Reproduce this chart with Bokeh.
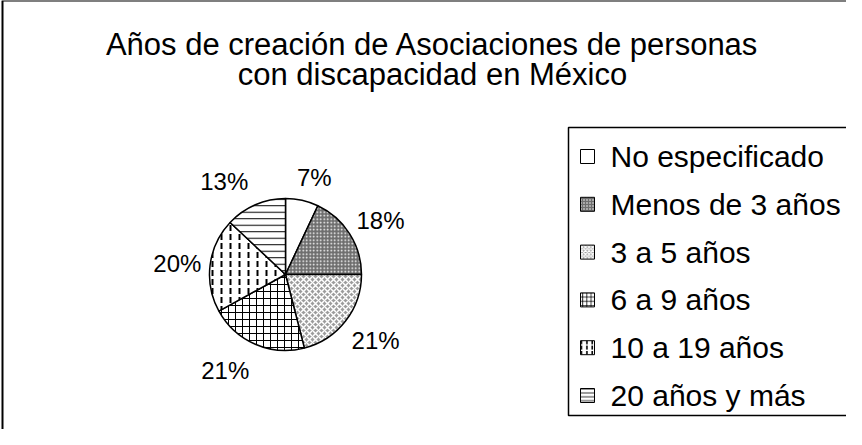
import math
from bokeh.plotting import figure
from bokeh.models import Range1d
from bokeh.core.properties import value
from bokeh.embed import file_html
from bokeh.resources import INLINE

# ---- data ----
title_lines = ["Años de creación de Asociaciones de personas",
               "con discapacidad en México"]
categories = ["No especificado", "Menos de 3 años", "3 a 5 años",
              "6 a 9 años", "10 a 19 años", "20 años y más"]
percentages = [7, 18, 21, 21, 20, 13]

# ---- styles / layout ----
fills = ["white", "#6e6e6e", "#9c9c9c", "white", "white", "white"]
hatches = [" ", "dot", "diagonal_cross", "cross", "vertical_dash", "horizontal_line"]
hatch_colors = ["black", "white", "white", "black", "black", "black"]
hatch_scales = [6, 3.5, 6, 7, 9, 6.5]
hatch_weights = [1, 1, 1.5, 1, 2, 1]
# small screen-pixel nudges for the percentage labels (dx right, dy down)
label_nudge = [(5, 9), (3, 4), (4, -1), (-17, -4), (0, 3), (-18, 7)]
FONT = value("Liberation Sans")

W, H = 846, 429


def px(x):
    return x - 8


def py(y):
    return H - (y - 8)


p = figure(width=W, height=H, output_backend="svg", toolbar_location=None,
           x_range=Range1d(0, W), y_range=Range1d(0, H),
           x_axis_type=None, y_axis_type=None, min_border=0)
p.grid.visible = False
p.outline_line_color = None
p.background_fill_color = "white"

# outer chart border (right/bottom outside the visible window)
p.quad(left=px(10), right=px(1200), top=py(8), bottom=py(1200),
       fill_color=None, line_color="black", line_width=2)

# title
for i, line in enumerate(title_lines):
    p.text(x=[px(440)], y=[py(52 + 30 * i)], text=[line], text_font=FONT,
           text_font_size="31px", text_align="center",
           text_baseline="alphabetic", text_color="black")

# pie
cx, cy, r = px(293), py(282), 76
total = sum(percentages)
cum = 0
for i, v in enumerate(percentages):
    a0 = math.pi / 2 - 2 * math.pi * cum / total
    cum += v
    a1 = math.pi / 2 - 2 * math.pi * cum / total
    p.wedge(x=[cx], y=[cy], radius=r, radius_units="screen",
            start_angle=a0, end_angle=a1, direction="clock",
            fill_color=fills[i], line_color="black", line_width=1.5,
            hatch_pattern=hatches[i], hatch_color=hatch_colors[i],
            hatch_scale=hatch_scales[i], hatch_weight=hatch_weights[i])
    mid = (a0 + a1) / 2
    ndx, ndy = label_nudge[i]
    p.text(x=[cx + 109 * math.cos(mid) + ndx],
           y=[cy + 109 * math.sin(mid) - ndy],
           text=[f"{v}%"], text_font=FONT, text_font_size="24px",
           text_align="center", text_baseline="middle", text_color="black")

# legend box
p.quad(left=px(576), right=px(1200), top=py(135), bottom=py(423),
       fill_color=None, line_color="black", line_width=1.5)

for i, cat in enumerate(categories):
    yc = py(164 + 47.8 * i)
    p.rect(x=[px(595)], y=[yc], width=14, height=14,
           width_units="screen", height_units="screen",
           fill_color=fills[i], line_color="black", line_width=1,
           hatch_pattern=hatches[i], hatch_color=hatch_colors[i],
           hatch_scale=max(3, hatch_scales[i] * 0.6),
           hatch_weight=hatch_weights[i] * 0.8)
    p.text(x=[px(618)], y=[yc], text=[cat], text_font=FONT,
           text_font_size="30px", text_align="left",
           text_baseline="middle", text_color="black")

open("out.html", "w").write(file_html(p, INLINE))
